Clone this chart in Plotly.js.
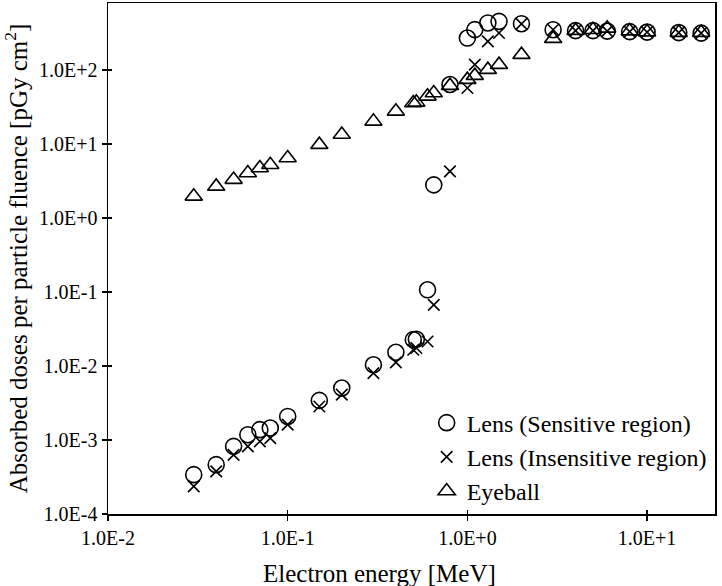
<!DOCTYPE html>
<html>
<head>
<meta charset="utf-8">
<script src="https://cdn.plot.ly/plotly-3.0.1.min.js"></script>
<style>html,body{margin:0;padding:0;background:#fff;}#chart{width:722px;height:586px;}</style>
</head>
<body>
<div id="chart"></div>
<script>
// Electron energy [MeV]
var energyLensS = [0.03, 0.04, 0.05, 0.06, 0.07, 0.08, 0.1, 0.15, 0.2, 0.3, 0.4, 0.5, 0.52, 0.6, 0.65, 0.8, 1.0, 1.1, 1.3, 1.5, 2, 3, 4, 5, 6, 8, 10, 15, 20];
var doseLensS = [3.4e-4, 4.64e-4, 8.2e-4, 1.18e-3, 1.38e-3, 1.45e-3, 2.08e-3, 3.43e-3, 5.04e-3, 1.04e-2, 1.53e-2, 2.27e-2, 2.3e-2, 0.107, 2.8, 63.6, 270, 351, 432, 454, 422, 350, 340, 340, 335, 330, 325, 320, 315];

var energyLensI = [0.03, 0.04, 0.05, 0.06, 0.07, 0.08, 0.1, 0.15, 0.2, 0.3, 0.4, 0.5, 0.52, 0.6, 0.65, 0.8, 1.0, 1.1, 1.3, 1.5, 2, 3, 4, 5, 6, 8, 10, 15, 20];
var doseLensI = [2.36e-4, 3.76e-4, 6.3e-4, 8.2e-4, 9.6e-4, 1.06e-3, 1.61e-3, 2.84e-3, 4.1e-3, 8.0e-3, 1.12e-2, 1.66e-2, 1.75e-2, 2.14e-2, 6.7e-2, 4.26, 57, 118, 243, 316, 420, 350, 340, 340, 335, 330, 325, 320, 315];

var energyEye = [0.03, 0.04, 0.05, 0.06, 0.07, 0.08, 0.1, 0.15, 0.2, 0.3, 0.4, 0.5, 0.52, 0.6, 0.65, 0.8, 1.0, 1.1, 1.3, 1.5, 2, 3, 4, 5, 6, 8, 10, 15, 20];
var doseEye = [1.96, 2.67, 3.3, 4.06, 4.74, 5.25, 6.47, 9.79, 13.4, 20.2, 27.6, 35.8, 36.5, 44, 48.9, 61.4, 74, 83.8, 101, 118, 161, 265, 340, 350, 365, 335, 325, 320, 320];

var xTickVals = [0.01, 0.1, 1, 10];
var xTickText = ["1.0E-2", "1.0E-1", "1.0E+0", "1.0E+1"];
var yTickVals = [1e-4, 1e-3, 1e-2, 1e-1, 1, 10, 100];
var yTickText = ["1.0E-4", "1.0E-3", "1.0E-2", "1.0E-1", "1.0E+0", "1.0E+1", "1.0E+2"];

var seriesNames = ["Lens (Sensitive region)", "Lens (Insensitive region)", "Eyeball"];
var xTitle = "Electron energy [MeV]";
var yTitle = "Absorbed doses per particle fluence [pGy cm<sup>2</sup>]";

var FONT = "Liberation Serif";
var xRange = [-2, 1.378];
var yRange = [-4, 2.905];

var traces = [
  {x: energyLensS, y: doseLensS, name: seriesNames[0], type: "scatter", mode: "markers",
   marker: {symbol: "circle-open", size: 16, color: "#000", line: {width: 1.6, color: "#000"}}},
  {x: energyLensI, y: doseLensI, name: seriesNames[1], type: "scatter", mode: "markers",
   marker: {symbol: "x-thin-open", size: 11.5, color: "#000", line: {width: 1.6, color: "#000"}}},
  {x: energyEye, y: doseEye, name: seriesNames[2], type: "scatter", mode: "markers",
   marker: {symbol: "triangle-up-open", size: 15, color: "#000", line: {width: 1.6, color: "#000"}}},
  {x: [], y: [], xaxis: "x2", yaxis: "y2", showlegend: false, hoverinfo: "skip", type: "scatter", mode: "markers"}
];

var layout = {
  width: 722, height: 586,
  margin: {l: 108, r: 7, t: 3, b: 72},
  paper_bgcolor: "#fff", plot_bgcolor: "#fff",
  font: {family: FONT, color: "#000", size: 20},
  showlegend: true,
  legend: {x: 0.525, y: 0.222, xanchor: "left", yanchor: "top", bgcolor: "rgba(0,0,0,0)",
           font: {family: FONT, size: 24, color: "#000"}, tracegroupgap: 0, itemwidth: 30},
  annotations: [
    {text: xTitle, xref: "paper", yref: "paper", x: 0.4465, y: -0.1155,
     xanchor: "center", yanchor: "middle", showarrow: false,
     font: {family: FONT, size: 25, color: "#000"}}
  ],
  xaxis: {type: "log", range: xRange, tickvals: xTickVals, ticktext: xTickText,
          ticks: "outside", ticklen: 5, tickwidth: 1.5, tickcolor: "#000",
          showline: true, linecolor: "#000", linewidth: 1.5, mirror: true,
          showgrid: false, zeroline: false,
          tickfont: {family: FONT, size: 20, color: "#000"}},
  yaxis: {type: "log", range: yRange, tickvals: yTickVals, ticktext: yTickText,
          ticks: "outside", ticklen: 5, tickwidth: 1.5, tickcolor: "#000",
          showline: true, linecolor: "#000", linewidth: 1.5, mirror: true,
          showgrid: false, zeroline: false,
          tickfont: {family: FONT, size: 20, color: "#000"},
          title: {text: yTitle, font: {family: FONT, size: 25, color: "#000"}, standoff: 6}},
  xaxis2: {type: "log", range: xRange, overlaying: "x", side: "bottom", anchor: "y2",
           tickvals: xTickVals, ticks: "inside", ticklen: 4, tickwidth: 1.5, tickcolor: "#000",
           showticklabels: false, showgrid: false, zeroline: false, showline: false},
  yaxis2: {type: "log", range: yRange, overlaying: "y", side: "left", anchor: "x2",
           tickvals: yTickVals, ticks: "inside", ticklen: 4, tickwidth: 1.5, tickcolor: "#000",
           showticklabels: false, showgrid: false, zeroline: false, showline: false}
};

Plotly.newPlot("chart", traces, layout, {displayModeBar: false, staticPlot: true});
</script>
</body>
</html>
